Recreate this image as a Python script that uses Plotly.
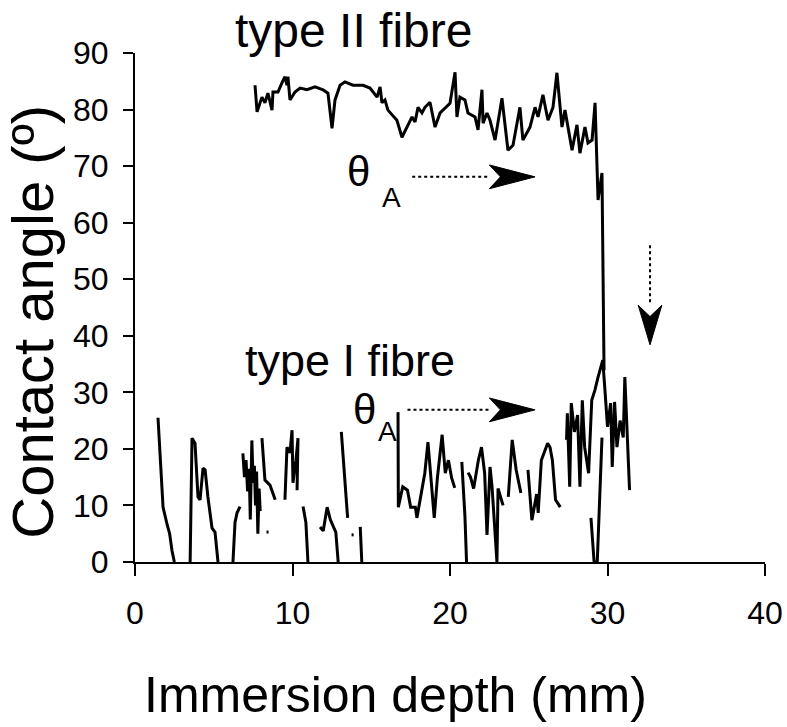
import plotly.graph_objects as go

# type II fibre trace (immersion depth in mm, contact angle in degrees)
depth_type2 = [7.62, 7.75, 8.06, 8.25, 8.44, 8.70, 8.76, 9.08, 9.33, 9.52, 9.65, 9.71, 9.84,
               10.16, 10.48, 10.92, 11.43, 11.94, 12.25, 12.51, 12.70, 13.02, 13.33, 13.84,
               14.48, 14.92, 15.37, 15.56, 15.68, 15.87, 16.06, 16.63, 16.95, 17.27, 17.59,
               17.78, 17.97, 18.22, 18.41, 18.73, 19.05, 19.37, 19.68, 20.00, 20.32, 20.44,
               20.63, 20.95, 21.14, 21.59, 21.78, 22.03, 22.10, 22.35, 22.54, 22.86, 23.30,
               23.68, 24.00, 24.44, 24.63, 24.89, 25.08, 25.40, 25.59, 25.90, 26.22, 26.54,
               26.79, 27.11, 27.30, 27.75, 28.06, 28.25, 28.57, 28.76, 29.02, 29.21, 29.40,
               29.65, 29.71, 29.78]
angle_type2 = [84.3, 79.6, 82.2, 81.2, 82.9, 79.9, 83.1, 83.1, 84.7, 85.8, 84.3, 85.8, 81.7,
               83.1, 83.8, 83.5, 84.0, 83.5, 82.9, 76.7, 81.7, 84.3, 84.9, 84.3,
               84.3, 83.8, 82.2, 84.0, 81.2, 81.7, 79.9, 78.1, 75.1, 76.9, 78.7,
               77.8, 80.4, 79.4, 80.4, 81.3, 76.9, 79.4, 80.3, 81.1, 86.6, 78.7,
               82.2, 81.7, 79.4, 78.7, 76.4, 83.5, 77.6, 79.4, 78.1, 74.6, 82.0,
               72.8, 73.7, 80.4, 74.6, 75.8, 76.9, 80.4, 78.7, 82.6, 78.1, 80.4,
               86.5, 76.9, 79.9, 72.8, 77.3, 72.3, 76.9, 74.1, 74.6, 81.2, 64.0,
               68.8, 55.2, 33.9]

# type I fibre trace, broken into pieces (None = gap in the record)
depth_type1 = [1.46, 1.60, 1.65, 1.78, 2.05, 2.20, 2.35, 2.50, None,
               3.50, 3.55, 3.62, 3.81, 3.90, 4.00, 4.13, 4.32, 4.45, 4.63, 4.89, 5.08, 5.27, None,
               6.22, 6.35, 6.48, 6.67, None,
               6.85, 6.95, 7.05, 7.15, 7.25, 7.32, 7.42, 7.50, 7.58, 7.65, 7.72, 7.80, 7.88, 7.95, None,
               8.06, 8.15, 8.25, 8.57, 8.90, None,
               8.35, 8.48, None,
               9.52, 9.65, 9.84, 9.97, 10.03, 10.22, 10.35, 10.29, None,
               10.67, 10.85, 10.98, None,
               11.75, 11.95, 12.20, 12.40, 12.60, 12.75, 12.90, None,
               13.10, 13.30, 13.50, None,
               13.75, 13.88, None,
               14.30, 14.40, None,
               16.70, 16.72, 17.00, 17.30, 17.50, 17.80, 17.90, 18.20, 18.40, 18.60, 18.90, 19.00,
               19.20, 19.50, 19.70, 19.90, 20.10, 20.30, None,
               20.75, 20.95, 21.05, None,
               21.15, 21.30, 21.50, 21.80, 22.00, 22.20, 22.35, 22.54, 22.67, 22.98, 23.05, 23.37, None,
               23.70, 23.95, 24.20, 24.50, None,
               24.95, 25.20, 25.50, 25.60, 25.80, 26.20, 26.35, 26.50, 26.70, 27.00, None,
               27.40, 27.45, 27.60, 27.70, 27.90, 28.10, 28.25, 28.40, 28.55, 28.80, 29.00, 29.20,
               29.40, 29.70, 29.85, 30.00, 30.20, 30.30, 30.45, 30.60, 30.80, 31.00, 31.10, 31.25,
               31.40, None,
               28.95, 29.15, 29.35, 29.55, 29.65]
angle_type1 = [25.5, 18.0, 15.0, 9.7, 6.5, 5.0, 2.0, 0.0, None,
               0.0, 12.0, 21.9, 21.0, 16.0, 11.5, 11.0, 16.6, 16.3, 11.5, 6.0, 5.3, 0.0, None,
               0.0, 7.0, 8.7, 9.8, None,
               19.2, 15.0, 18.0, 12.5, 16.5, 7.5, 21.5, 14.0, 17.0, 10.0, 16.0, 5.0, 13.0, 9.0, None,
               21.9, 18.0, 14.5, 13.6, 11.0, None,
               5.3, 5.3, None,
               11.0, 20.3, 19.3, 23.3, 14.0, 18.0, 21.9, 12.7, None,
               9.8, 7.0, 0.0, None,
               6.2, 5.5, 9.7, 7.5, 6.2, 5.3, 0.0, None,
               23.0, 15.0, 7.8, None,
               4.8, 4.8, None,
               6.2, 0.0, None,
               26.5, 9.7, 13.3, 12.7, 9.7, 9.7, 7.8, 12.7, 15.7, 21.2, 12.2, 7.8,
               14.9, 22.5, 15.7, 18.0, 14.9, 13.1, None,
               17.7, 8.0, 0.0, None,
               15.8, 15.0, 13.0, 18.0, 20.3, 15.7, 4.8, 16.8, 13.3, 0.0, 13.0, 10.0, None,
               11.5, 21.6, 16.3, 12.2, None,
               16.3, 7.4, 12.0, 8.7, 18.0, 21.0, 20.3, 18.0, 11.0, 9.7, None,
               21.6, 26.3, 13.3, 28.1, 23.0, 26.0, 13.3, 28.6, 20.3, 15.7, 28.6, 30.4,
               32.7, 35.7, 29.9, 23.9, 28.1, 16.8, 28.3, 20.3, 25.0, 22.0, 32.7, 22.9,
               12.7, None,
               7.8, 0.0, 0.0, 12.7, 22.0]

x_ticks = [0, 10, 20, 30, 40]
y_ticks = [0, 10, 20, 30, 40, 50, 60, 70, 80, 90]

FONT = "Liberation Sans, Arial, sans-serif"

fig = go.Figure()
fig.add_trace(go.Scatter(x=depth_type2, y=angle_type2, mode="lines",
                         line=dict(color="black", width=3), connectgaps=False))
fig.add_trace(go.Scatter(x=depth_type1, y=angle_type1, mode="lines",
                         line=dict(color="black", width=3), connectgaps=False))


def dotted_arrow(x0, y0, x1, y1, horizontal=True):
    # dotted shaft plus a filled, notched head
    fig.add_shape(type="line", x0=x0, y0=y0, x1=x1, y1=y1, xref="x", yref="y",
                  line=dict(color="black", width=2, dash="dot"))
    if horizontal:
        hl, hw, notch = 2.9, 2.1, 2.2
        path = (f"M {x1+hl} {y1} L {x1} {y1+hw} L {x1+hl-notch} {y1} "
                f"L {x1} {y1-hw} Z")
    else:
        hl, hw, notch = 7.0, 0.75, 5.0
        path = (f"M {x1} {y1-hl} L {x1-hw} {y1} L {x1} {y1-hl+notch} "
                f"L {x1+hw} {y1} Z")
    fig.add_shape(type="path", path=path, xref="x", yref="y",
                  fillcolor="black", line=dict(color="black", width=1))


def label(text, x, y, size, xref="x", yref="y", angle=0):
    fig.add_annotation(x=x, y=y, xref=xref, yref=yref, text=text, textangle=angle,
                       showarrow=False, xanchor="center", yanchor="middle",
                       font=dict(family=FONT, size=size, color="black"))


dotted_arrow(17.6, 68.1, 22.5, 68.1)
dotted_arrow(17.3, 26.9, 22.5, 26.9)
dotted_arrow(32.7, 56.0, 32.7, 45.4, horizontal=False)

label("type II fibre", 13.9, 1.045, 48, yref="paper")
label("type I fibre", 13.65, 35.7, 45)
label("θ", 14.2, 69.0, 42)
label("A", 16.3, 64.4, 28)
label("θ", 14.6, 26.9, 42)
label("A", 16.05, 23.0, 28)

# axis titles as annotations so they can sit where the original puts them
label("Immersion depth (mm)", 0.414, -0.262, 50, xref="paper", yref="paper")
label("Contact angle (º)", -0.164, 0.4715, 58, xref="paper", yref="paper", angle=-90)

fig.update_layout(
    width=787, height=727,
    margin=dict(l=135, r=22, t=53, b=165),
    paper_bgcolor="white", plot_bgcolor="white",
    showlegend=False,
    font=dict(family=FONT, color="black"),
)
fig.update_xaxes(range=[0, 40], tickvals=x_ticks, showgrid=False, zeroline=False,
                 showline=True, linecolor="black", linewidth=2, automargin=False,
                 ticks="outside", ticklen=12, tickwidth=2, tickcolor="black",
                 tickfont=dict(size=32), ticklabelstandoff=10)
fig.update_yaxes(range=[0, 90], tickvals=y_ticks, showgrid=False, zeroline=False,
                 showline=True, linecolor="black", linewidth=2, automargin=False,
                 ticks="outside", ticklen=10, tickwidth=2, tickcolor="black",
                 tickfont=dict(size=32), ticklabelstandoff=8)

# drop the browser's default 8px body margin so the figure sits at the page corner
fig.write_html("out.html", config={"displayModeBar": False},
               post_script="document.body.style.margin='0';")
